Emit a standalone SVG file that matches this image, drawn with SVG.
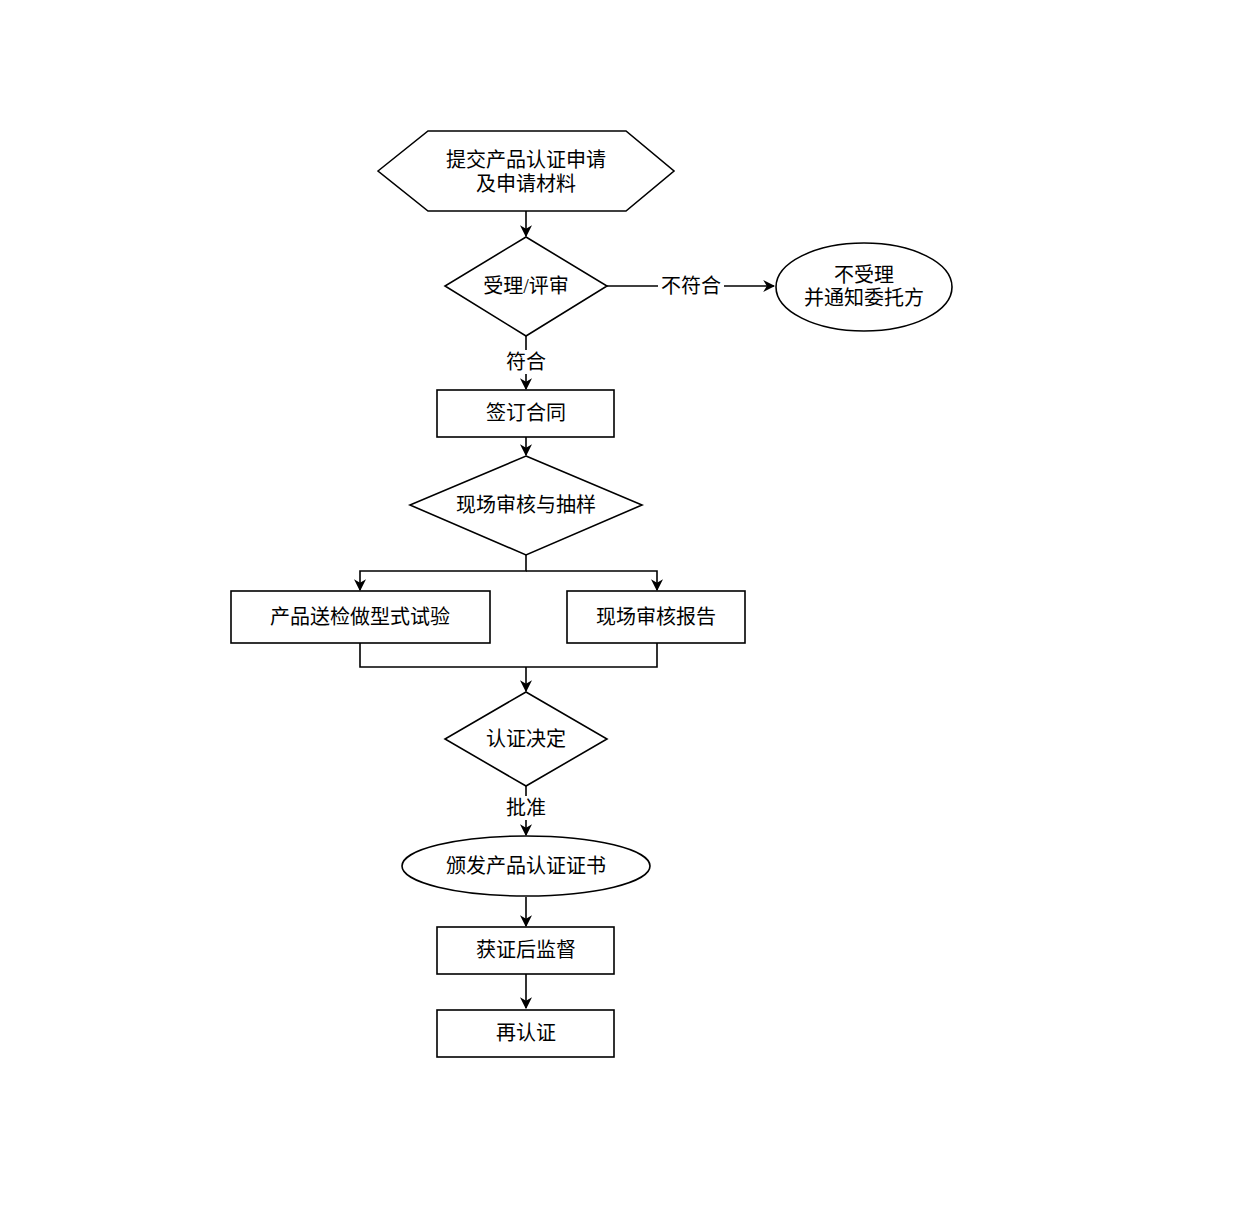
<svg xmlns="http://www.w3.org/2000/svg" width="1241" height="1217" viewBox="0 0 1241 1217">
<style>
.s{fill:#fff;stroke:#000;stroke-width:1.6}
.t{font-family:"Liberation Serif","Noto Sans CJK SC",serif;font-size:20px;fill:#000;text-anchor:middle;dominant-baseline:central}
.c{fill:none;stroke:#000;stroke-width:1.6}
.lb{fill:#fff}
</style>
<defs>
<marker id="a" viewBox="0 0 10 10" refX="9" refY="5" markerWidth="12" markerHeight="12" markerUnits="userSpaceOnUse" orient="auto">
<path d="M0,0 L10,5 L0,10 L3,5 Z" fill="#000"/>
</marker>
</defs>
<rect width="1241" height="1217" fill="#fff"/>
<g id="connectors">
<path class="c" d="M526,211 V236" marker-end="url(#a)"/>
<path class="c" d="M607,286 H774" marker-end="url(#a)"/>
<path class="c" d="M526,336 V389" marker-end="url(#a)"/>
<path class="c" d="M526,437 V455" marker-end="url(#a)"/>
<path class="c" d="M526,555 V571 H360 V590" marker-end="url(#a)"/>
<path class="c" d="M526,571 H657 V590" marker-end="url(#a)"/>
<path class="c" d="M360,643 V667 H657 V643"/>
<path class="c" d="M526,667 V691" marker-end="url(#a)"/>
<path class="c" d="M526,786 V835" marker-end="url(#a)"/>
<path class="c" d="M526,897 V926" marker-end="url(#a)"/>
<path class="c" d="M526,974 V1008" marker-end="url(#a)"/>
<rect class="lb" x="658" y="274" width="66" height="24"/>
<text class="t" x="691" y="286">不符合</text>
<rect class="lb" x="503" y="350" width="46" height="24"/>
<text class="t" x="526" y="362">符合</text>
<rect class="lb" x="503" y="796" width="46" height="24"/>
<text class="t" x="526" y="808">批准</text>
</g>
<g id="n1">
<polygon class="s" points="378,171 428,131 626,131 674,171 626,211 428,211"/>
<text class="t" x="526" y="160">提交产品认证申请</text>
<text class="t" x="526" y="184">及申请材料</text>
</g>
<g id="n2">
<polygon class="s" points="526,237 607,286 526,336 445,286"/>
<text class="t" x="526" y="286">受理/评审</text>
</g>
<g id="n3">
<ellipse class="s" cx="864" cy="287" rx="88" ry="44"/>
<text class="t" x="864" y="275">不受理</text>
<text class="t" x="864" y="298">并通知委托方</text>
</g>
<g id="n4">
<rect class="s" x="437" y="390" width="177" height="47"/>
<text class="t" x="526" y="413">签订合同</text>
</g>
<g id="n5">
<polygon class="s" points="526,456 642,505 526,555 410,505"/>
<text class="t" x="526" y="505">现场审核与抽样</text>
</g>
<g id="n6">
<rect class="s" x="231" y="591" width="259" height="52"/>
<text class="t" x="360" y="617">产品送检做型式试验</text>
</g>
<g id="n7">
<rect class="s" x="567" y="591" width="178" height="52"/>
<text class="t" x="656" y="617">现场审核报告</text>
</g>
<g id="n8">
<polygon class="s" points="526,692 607,739 526,786 445,739"/>
<text class="t" x="526" y="739">认证决定</text>
</g>
<g id="n9">
<ellipse class="s" cx="526" cy="866" rx="124" ry="30"/>
<text class="t" x="526" y="866">颁发产品认证证书</text>
</g>
<g id="n10">
<rect class="s" x="437" y="927" width="177" height="47"/>
<text class="t" x="526" y="950">获证后监督</text>
</g>
<g id="n11">
<rect class="s" x="437" y="1010" width="177" height="47"/>
<text class="t" x="526" y="1033">再认证</text>
</g>
</svg>
